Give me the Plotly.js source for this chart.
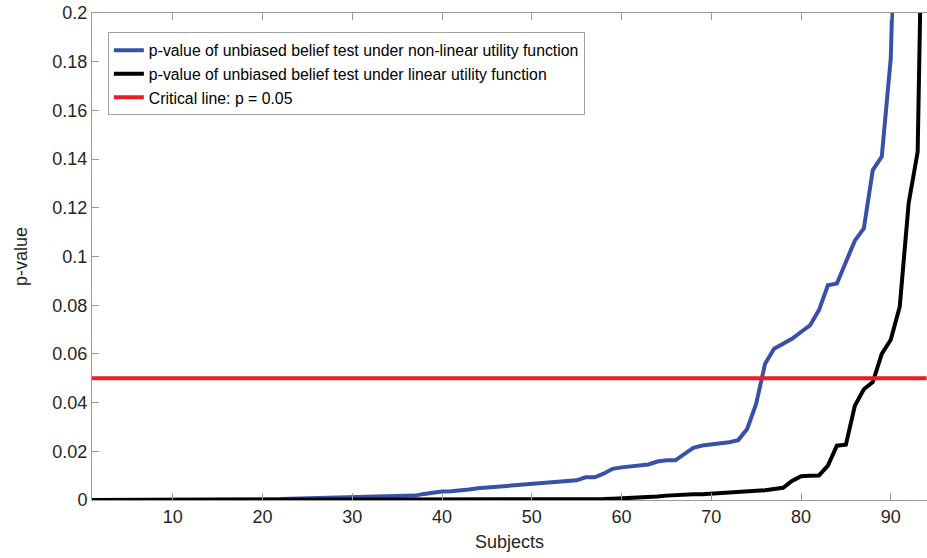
<!DOCTYPE html>
<html>
<head>
<meta charset="utf-8">
<script src="https://cdn.plot.ly/plotly-3.0.1.min.js"></script>
<style>
  html, body { margin: 0; padding: 0; background: #fff; }
  #chart { width: 927px; height: 558px; }
</style>
</head>
<body>
<div id="chart"></div>
<script>
// Subject index (sorted by p-value)
const subjects = [
  1, 2, 3, 4, 5, 6, 7, 8, 9, 10, 11, 12, 13, 14, 15, 16, 17, 18, 19, 20,
  21, 22, 23, 24, 25, 26, 27, 28, 29, 30, 31, 32, 33, 34, 35, 36, 37, 38, 39, 40,
  41, 42, 43, 44, 45, 46, 47, 48, 49, 50, 51, 52, 53, 54, 55, 56, 57, 58, 59, 60,
  61, 62, 63, 64, 65, 66, 67, 68, 69, 70, 71, 72, 73, 74, 75, 76, 77, 78, 79, 80,
  81, 82, 83, 84, 85, 86, 87, 88, 89, 90, 91, 92, 93, 94
];

// p-values, unbiased belief test, non-linear utility
const pNonLinear = [
  0.0000, 0.0000, 0.0000, 0.0000, 0.0000, 0.0000, 0.0000, 0.0001, 0.0001, 0.0001,
  0.0001, 0.0001, 0.0001, 0.0001, 0.0002, 0.0002, 0.0002, 0.0002, 0.0003, 0.0003,
  0.0003, 0.0004, 0.0005, 0.0006, 0.0007, 0.0008, 0.0009, 0.0010, 0.0010, 0.0011,
  0.0011, 0.0012, 0.0013, 0.0014, 0.0015, 0.0016, 0.0018, 0.0025, 0.0031, 0.0035,
  0.0036, 0.0038, 0.0043, 0.0048, 0.0051, 0.0052, 0.0054, 0.0057, 0.0060, 0.0063,
  0.0066, 0.0070, 0.0075, 0.0078, 0.0081, 0.0093, 0.0093, 0.0108, 0.0128, 0.0134,
  0.0138, 0.0141, 0.0146, 0.0158, 0.0163, 0.0163, 0.0188, 0.0214, 0.0224, 0.0228,
  0.0233, 0.0237, 0.0246, 0.0292, 0.0395, 0.0560, 0.0621, 0.0642, 0.0662, 0.0690,
  0.0717, 0.0780, 0.0882, 0.0889, 0.0978, 0.1065, 0.1115, 0.1355, 0.1410, 0.1812,
  0.3100, 0.4200, 0.5600, 0.7200
];

// p-values, unbiased belief test, linear utility
const pLinear = [
  0.0000, 0.0000, 0.0000, 0.0000, 0.0000, 0.0000, 0.0000, 0.0000, 0.0000, 0.0000,
  0.0000, 0.0000, 0.0000, 0.0000, 0.0000, 0.0000, 0.0000, 0.0000, 0.0000, 0.0000,
  0.0000, 0.0000, 0.0000, 0.0000, 0.0000, 0.0000, 0.0000, 0.0000, 0.0000, 0.0000,
  0.0001, 0.0001, 0.0001, 0.0001, 0.0001, 0.0001, 0.0001, 0.0001, 0.0001, 0.0001,
  0.0002, 0.0002, 0.0002, 0.0002, 0.0002, 0.0002, 0.0002, 0.0002, 0.0002, 0.0002,
  0.0003, 0.0003, 0.0003, 0.0003, 0.0003, 0.0004, 0.0004, 0.0004, 0.0005, 0.0006,
  0.0007, 0.0008, 0.0010, 0.0014, 0.0018, 0.0021, 0.0023, 0.0024, 0.0024, 0.0026,
  0.0028, 0.0030, 0.0031, 0.0032, 0.0035, 0.0040, 0.0045, 0.0050, 0.0078, 0.0098,
  0.0100, 0.0101, 0.0141, 0.0223, 0.0227, 0.0387, 0.0455, 0.0484, 0.0600, 0.0658,
  0.0793, 0.1220, 0.1430, 0.3500
];

// Significance threshold
const criticalP = 0.05;

// Axis ticks
const xTickVals = [10, 20, 30, 40, 50, 60, 70, 80, 90];
const xTickText = ['10', '20', '30', '40', '50', '60', '70', '80', '90'];
const yTickVals = [0, 0.02, 0.04, 0.06, 0.08, 0.1, 0.12, 0.14, 0.16, 0.18, 0.2];
const yTickText = ['0', '0.02', '0.04', '0.06', '0.08', '0.1', '0.12', '0.14', '0.16', '0.18', '0.2'];

const seriesNames = [
  'p-value of unbiased belief test under non-linear utility function',
  'p-value of unbiased belief test under linear utility function',
  'Critical line: p = 0.05'
];

const FONT = 'Liberation Sans, Arial, Helvetica, sans-serif';
const AXIS_GREY = '#9a9a9a';
const TEXT_GREY = '#262626';

const traces = [
  {
    x: subjects, y: pNonLinear, type: 'scatter', mode: 'lines',
    name: seriesNames[0],
    line: { color: '#3950a8', width: 4 }
  },
  {
    x: subjects, y: pLinear, type: 'scatter', mode: 'lines',
    name: seriesNames[1],
    line: { color: '#000000', width: 4 }
  },
  {
    x: subjects, y: subjects.map(() => criticalP), type: 'scatter', mode: 'lines',
    name: seriesNames[2],
    line: { color: '#ed1c24', width: 4 }
  }
];

const layout = {
  width: 927,
  height: 558,
  margin: { l: 92, r: 0, t: 13, b: 58 },
  paper_bgcolor: '#ffffff',
  plot_bgcolor: '#ffffff',
  font: { family: FONT, size: 18, color: TEXT_GREY },
  showlegend: true,
  legend: {
    x: 0.019, y: 0.96, xanchor: 'left', yanchor: 'top',
    bgcolor: '#ffffff', bordercolor: '#a0a0a0', borderwidth: 1,
    font: { family: FONT, size: 15.8, color: '#000000' },
    traceorder: 'normal'
  },
  xaxis: {
    range: [1, 94.04],
    tickmode: 'array', tickvals: xTickVals, ticktext: xTickText,
    ticks: 'inside', ticklen: 7, tickcolor: AXIS_GREY, tickwidth: 1,
    showline: true, linecolor: AXIS_GREY, linewidth: 1, mirror: 'ticks',
    showgrid: false, zeroline: false,
    tickfont: { family: FONT, size: 18, color: TEXT_GREY },
    title: { text: 'Subjects', font: { family: FONT, size: 18, color: TEXT_GREY }, standoff: 9 }
  },
  yaxis: {
    range: [0, 0.2],
    tickmode: 'array', tickvals: yTickVals, ticktext: yTickText,
    ticks: 'inside', ticklen: 7, tickcolor: AXIS_GREY, tickwidth: 1,
    showline: true, linecolor: AXIS_GREY, linewidth: 1,
    showgrid: false, zeroline: false,
    tickfont: { family: FONT, size: 18, color: TEXT_GREY },
    title: { text: 'p-value', font: { family: FONT, size: 18, color: TEXT_GREY }, standoff: 20 }
  }
};

Plotly.newPlot('chart', traces, layout, { displayModeBar: false, staticPlot: true });
</script>
</body>
</html>
